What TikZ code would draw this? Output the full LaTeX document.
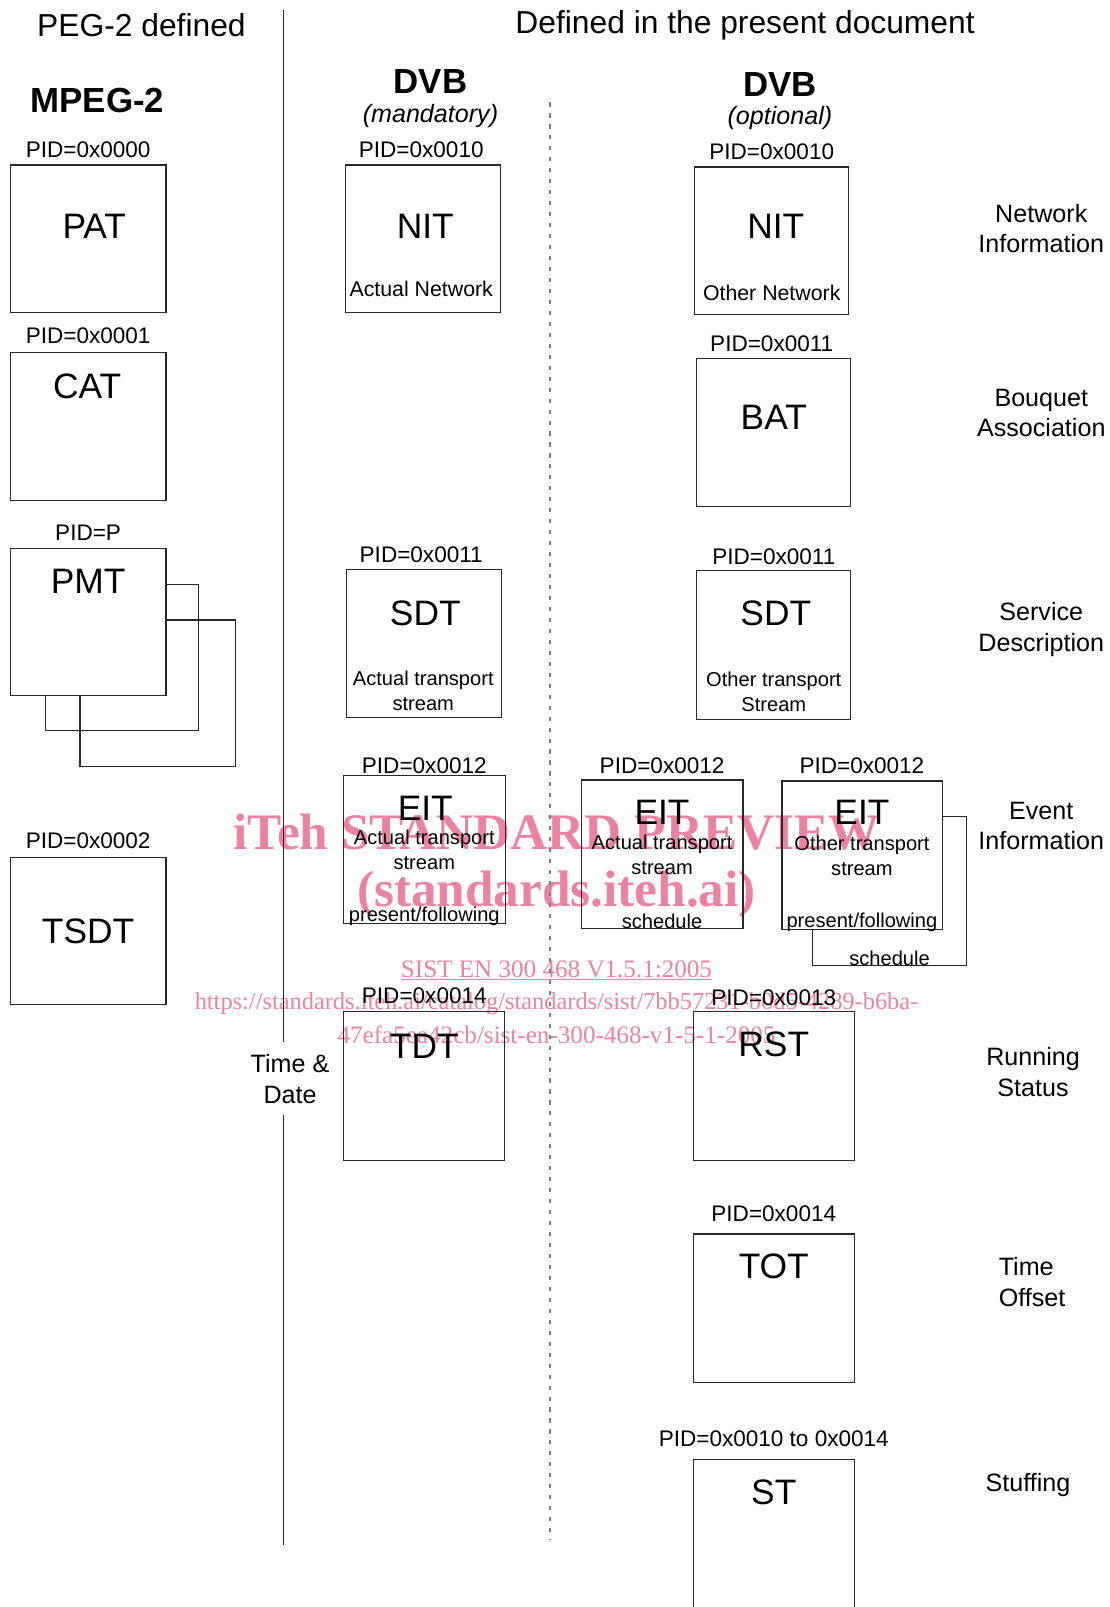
\documentclass[tikz,border=0pt]{standalone}
\usepackage{fontspec}
\setmainfont{Liberation Sans}
\newfontfamily\wmfont{Liberation Serif}
\definecolor{wm}{RGB}{236,130,162}
\definecolor{ln}{RGB}{40,40,40}
\definecolor{dt}{RGB}{125,125,125}
\newcommand\setfs[2]{\fontsize{#1}{#2}\selectfont}
\begin{document}
\begin{tikzpicture}[x=1pt,y=-1pt,
  tbox/.style={draw=ln, line width=1.1pt, inner sep=0pt, minimum width=152pt, minimum height=144pt},
  pid/.style={font=\setfs{22}{24}, inner sep=0pt},
  big/.style={font=\setfs{34.5}{38}, inner sep=0pt},
  small/.style={font=\setfs{19.6}{24}, inner sep=0pt, align=center},
  net/.style={font=\setfs{20.8}{24}, inner sep=0pt, align=center},
  side/.style={font=\setfs{24.5}{30}, inner sep=0pt, align=center},
  head/.style={font=\setfs{31}{36}, inner sep=0pt},
  bhead/.style={font=\setfs{34}{38}\bfseries, inner sep=0pt},
  ihead/.style={font=\setfs{24.5}{28}\itshape, inner sep=0pt},
  wmbig/.style={font=\wmfont\setfs{50}{54}\bfseries, text=wm, inner sep=0pt},
  wmsmall/.style={font=\wmfont\setfs{24.5}{30}, text=wm, inner sep=0pt},
  sep/.style={draw=ln, line width=1.1pt},
  dots/.style={draw=dt, line width=1.8pt, dash pattern=on 4pt off 6.7pt},
  back/.style={draw=ln, line width=1.1pt}]
\useasboundingbox (0,0) rectangle (1082.3,1568);
% watermark
\node[wmbig] (wm1) at (543,812) {iTeh STANDARD PREVIEW};
\node[wmbig] (wm2) at (543,872) {(standards.iteh.ai)};
\node[wmsmall] (wm3) at (543,947) {\underline{SIST EN 300 468 V1.5.1:2005}};
\node[wmsmall, font=\wmfont\setfs{23.8}{30}] (wm4) at (543,979) {https://standards.iteh.ai/catalog/standards/sist/7bb57231-b0d5-4289-b6ba-};
\node[wmsmall] (wm5) at (543,1010) {47efa5ea42cb/sist-en-300-468-v1-5-1-2005};
% headings
\node[head] (h1) at (138,25) {PEG-2 defined};
\node[head] (h2) at (727,25) {Defined in the present document};
\node[bhead] (mpeg) at (95,98) {MPEG-2};
\node[bhead] (dvb1) at (420,80) {DVB};
\node[ihead] (mand) at (420,113) {(mandatory)};
\node[bhead] (dvb2) at (761,82) {DVB};
\node[ihead] (opt) at (761,115) {(optional)};
% separators
\coordinate (s1) at (277,10);
\coordinate (s2) at (277,1017);
\coordinate (s3) at (277,1088);
\coordinate (s4) at (277,1507);
\draw[sep] (s1) -- (s2);
\draw[sep] (s3) -- (s4);
\coordinate (d1) at (537,100);
\coordinate (d2) at (537,1502);
\draw[dots] (d1) -- (d2);
\node[side] (td) at (283,1053) {Time \&\\Date};
% column MPEG-2
\node[pid] at (86,146) {PID=0x0000};
\node[tbox] (pat) at (86,233) {};
\node[big] at (92,221) {PAT};
\node[pid] at (86,328) {PID=0x0001};
\node[tbox] (cat) at (86,416) {};
\node[big] at (85,377) {CAT};
\node[pid] at (86,520) {PID=P};
\draw[back] (162,570) -- (194,570) -- (194,713) -- (44,713) -- (44,679);
\draw[back] (162,605) -- (230,605) -- (230,748) -- (78,748) -- (78,679);
\node[tbox] (pmt) at (86,607) {};
\node[big] at (86,567) {PMT};
\node[pid] at (86,820) {PID=0x0002};
\node[tbox, minimum height=143pt] (tsdt) at (86,908.5) {};
\node[big] at (86,909) {TSDT};
% column DVB mandatory
\node[pid] at (411,146) {PID=0x0010};
\node[tbox, minimum width=151pt] (nita) at (412.5,233) {};
\node[big] at (415,221) {NIT};
\node[net] at (411,282) {Actual Network};
\node[pid] at (411,541) {PID=0x0011};
\node[tbox, minimum width=151pt] (sdta) at (413.5,628) {};
\node[big] at (415,598) {SDT};
\node[small] at (413,674) {Actual transport\\stream};
\node[pid] at (414,747) {PID=0x0012};
\node[tbox, minimum width=158pt] (eitpf) at (414,829) {};
\node[big] at (415,789) {EIT};
\node[small] at (414,829) {Actual transport\\stream};
\node[small] at (414,894) {present/following};
\node[pid] at (414,972) {PID=0x0014};
\node[tbox, minimum width=157pt, minimum height=145pt] (tdt) at (413.5,1059.5) {};
\node[big] at (414,1021) {TDT};
% column DVB optional
\node[pid] at (753,148) {PID=0x0010};
\node[tbox, minimum width=150pt] (nito) at (753,235) {};
\node[big] at (757,221) {NIT};
\node[net] at (753,286) {Other Network};
\node[pid] at (753,335) {PID=0x0011};
\node[tbox, minimum width=150pt] (bat) at (755,422) {};
\node[big] at (755,407) {BAT};
\node[pid] at (755,543) {PID=0x0011};
\node[tbox, minimum width=150pt, minimum height=145pt] (sdto) at (755,629.5) {};
\node[big] at (757,598) {SDT};
\node[small] at (755,675) {Other transport\\Stream};
\node[pid] at (646,747) {PID=0x0012};
\node[tbox, minimum width=158pt, minimum height=145pt] (eits) at (646,833.5) {};
\node[big] at (646,793) {EIT};
\node[small] at (646,834) {Actual transport\\stream};
\node[small] at (646,899) {schedule};
\node[pid] at (841,747) {PID=0x0012};
\draw[back] (920,797) -- (943,797) -- (943,942) -- (793,942) -- (793,907);
\node[tbox, minimum width=157pt, minimum height=145pt] (eito) at (841.5,834.5) {};
\node[big] at (841,793) {EIT};
\node[small] at (841,835) {Other transport\\stream};
\node[small] at (841,900) {present/following};
\node[small] at (868,935) {schedule};
\node[pid] at (755,974) {PID=0x0013};
\node[tbox, minimum width=157pt, minimum height=145pt] (rst) at (755.5,1059.5) {};
\node[big] at (755,1019) {RST};
\node[pid] at (755,1184) {PID=0x0014};
\node[tbox, minimum width=157pt, minimum height=145pt] (tot) at (755.5,1276.5) {};
\node[big] at (755,1236) {TOT};
\node[pid] at (755,1404) {PID=0x0010 to 0x0014};
\node[tbox, minimum width=157pt, minimum height=200pt] (st) at (755.5,1524) {};
\node[big] at (755,1456) {ST};
% side labels
\node[side] (l1) at (1016,223) {Network\\Information};
\node[side] (l2) at (1016,403) {Bouquet\\Association};
\node[side] (l3) at (1016,614) {Service\\Description};
\node[side] (l4) at (1016,806) {Event\\Information};
\node[side] (l5) at (1008,1046) {Running\\Status};
\node[side, align=left] (l6) at (1007,1251) {Time\\Offset};
\node[side] (l7) at (1003,1449) {Stuffing};
\end{tikzpicture}
\end{document}
